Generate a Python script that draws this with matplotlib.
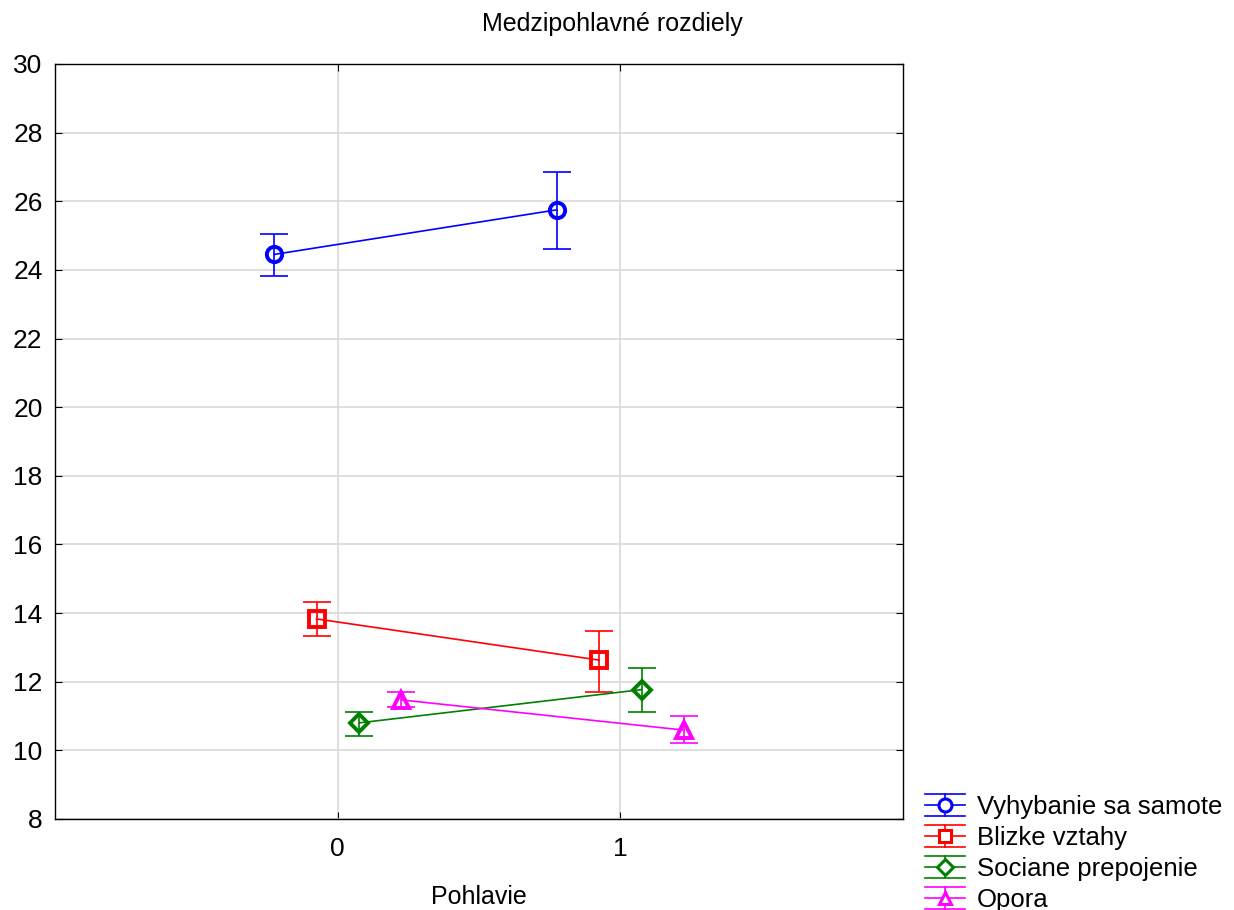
import numpy as np
import matplotlib.pyplot as plt
from matplotlib.lines import Line2D
from matplotlib.legend_handler import HandlerBase

plt.rcParams['font.family'] = ['Liberation Sans', 'DejaVu Sans']

# data
groups = [0, 1]
series = ['Vyhybanie sa samote', 'Blizke vztahy', 'Sociane prepojenie', 'Opora']
means = [[24.45, 25.75], [13.83, 12.63], [10.80, 11.77], [11.47, 10.59]]
lower = [[23.82, 24.61], [13.33, 11.70], [10.42, 11.12], [11.26, 10.22]]
upper = [[25.05, 26.85], [14.32, 13.48], [11.12, 12.40], [11.70, 11.00]]

colors = ['#0000ff', '#ff0000', '#008000', '#ff00ff']
markers = ['o', 's', 'D', '^']
offsets = [-0.225, -0.075, 0.075, 0.225]


class HandlerMeanErr(HandlerBase):
    # legend key: marker on a line, with a line above and below
    def create_artists(self, legend, orig, xd, yd, w, h, fs, trans):
        c = orig.get_color()
        yc = h / 2 - yd
        arts = []
        for dy in (-0.55 * h, 0, 0.55 * h):
            arts.append(Line2D([-xd, w - xd], [yc + dy] * 2, color=c, lw=1.2))
        arts.append(Line2D([w / 2 - xd] * 2, [yc - 0.55 * h, yc + 0.55 * h], color=c, lw=1.2))
        arts.append(Line2D([w / 2 - xd], [yc], marker=orig.get_marker(), ms=orig.get_markersize() * 0.85,
                           mfc='white', mec=c, mew=2.2, ls='none'))
        for a in arts:
            a.set_transform(trans)
        return arts


fig = plt.figure(figsize=(12.34, 9.1), dpi=100)
ax = fig.add_axes([0.0446, 0.1, 0.6872, 0.8297])

handles = []
for i, name in enumerate(series):
    x = np.array(groups) + offsets[i]
    m = np.array(means[i])
    err = [m - np.array(lower[i]), np.array(upper[i]) - m]
    ms = 9.5 if markers[i] == 'D' else 11
    line, caps, bars = ax.errorbar(x, m, yerr=err, color=colors[i], lw=1.2,
                                   elinewidth=1.2, capsize=10, capthick=1.2, zorder=3)
    for cp in caps:
        cp.set_markeredgewidth(1.2)
    ax.plot(x, m, ls='none', marker=markers[i], mfc='none', mec=colors[i],
            ms=ms, mew=2.8, zorder=4)
    handles.append(Line2D([], [], color=colors[i], marker=markers[i], ms=ms, label=name))

ax.set_xlim(-1, 2)
ax.set_ylim(8, 30)
ax.set_xticks(groups)
ax.set_yticks(np.arange(8, 31, 2))
ax.grid(True, color='#d9d9d9', lw=1.2, zorder=0)
ax.set_axisbelow(True)
ax.tick_params(direction='in', top=True, right=True, labelsize=19, length=5, pad=9)
ax.tick_params(axis='x', pad=13)
for s in ax.spines.values():
    s.set_linewidth(1.0)
ax.set_xlabel('Pohlavie', fontsize=18, labelpad=17)

fig.text(0.496, 0.9736, 'Medzipohlavné rozdiely', ha='center', va='center', fontsize=18)

ax.legend(handles=handles, handler_map={Line2D: HandlerMeanErr()},
          loc='lower left', bbox_to_anchor=(1.026, -0.123), frameon=False,
          fontsize=18.5, handlelength=1.55, handleheight=0.8, handletextpad=0.47,
          labelspacing=0.27, borderaxespad=0, borderpad=0)

fig.savefig('out.png', dpi=100)
